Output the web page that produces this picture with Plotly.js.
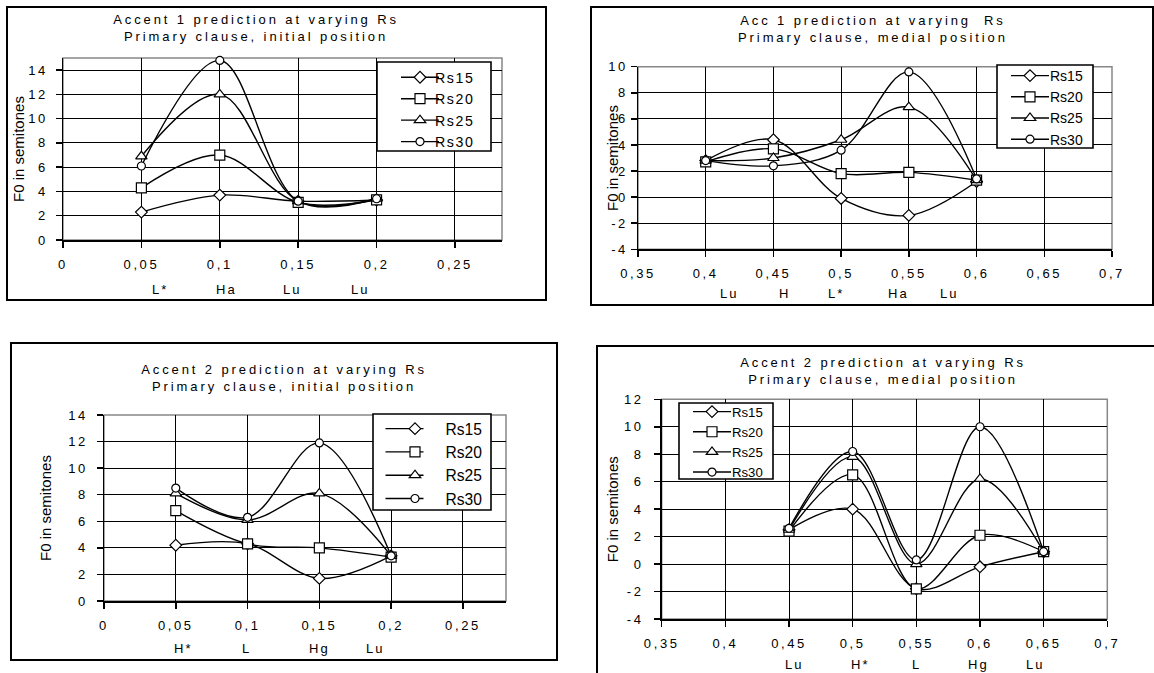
<!DOCTYPE html>
<html>
<head>
<meta charset="utf-8">
<script src="https://cdn.plot.ly/plotly-3.0.1.min.js"></script>
<style>
  html, body { margin: 0; padding: 0; background: #fff; }
  #chart { width: 1154px; height: 673px; }
  .xaxislayer-above text, .yaxislayer-above text { letter-spacing: 2.6px; }
  .legendtext { letter-spacing: 1.6px; transform: translateX(-5px); }
  .annotation-text.sp { letter-spacing: 2.9px; }
  .annotation-text.cl { letter-spacing: 2px; }
</style>
</head>
<body>
<div id="chart"></div>
<script>
// ---------------- DATA ----------------
const seriesNames = ["Rs15", "Rs20", "Rs25", "Rs30"];
const seriesSymbols = ["diamond", "square", "triangle-up", "circle"];

// Panel 1: Accent 1 prediction, primary clause, initial position
const p1Title = "Accent 1 prediction at varying Rs<br>Primary clause, initial position";
const p1X = [0.05, 0.1, 0.15, 0.2];
const p1Rs15 = [2.3, 3.7, 3.2, 3.3];
const p1Rs20 = [4.3, 7.0, 3.1, 3.3];
const p1Rs25 = [6.9, 12.0, 3.2, 3.4];
const p1Rs30 = [6.1, 14.8, 3.2, 3.4];
const p1Labels = ["L*", "Ha", "Lu", "Lu"];
const p1XTicks = [0, 0.05, 0.1, 0.15, 0.2, 0.25];
const p1XTickText = ["0", "0,05", "0,1", "0,15", "0,2", "0,25"];
const p1YTicks = [0, 2, 4, 6, 8, 10, 12, 14];
const p1YTickText = ["0", "2", "4", "6", "8", "10", "12", "14"];

// Panel 2: Acc 1 prediction, primary clause, medial position
const p2Title = "Acc 1 prediction at varying  Rs<br>Primary clause, medial position";
const p2X = [0.4, 0.45, 0.5, 0.55, 0.6];
const p2Rs15 = [2.8, 4.4, -0.1, -1.4, 1.2];
const p2Rs20 = [2.7, 3.7, 1.8, 1.9, 1.3];
const p2Rs25 = [2.8, 3.0, 4.4, 6.9, 1.3];
const p2Rs30 = [2.8, 2.4, 3.6, 9.6, 1.4];
const p2Labels = ["Lu", "H", "L*", "Ha", "Lu"];
const p2XTicks = [0.35, 0.4, 0.45, 0.5, 0.55, 0.6, 0.65, 0.7];
const p2XTickText = ["0,35", "0,4", "0,45", "0,5", "0,55", "0,6", "0,65", "0,7"];
const p2YTicks = [-4, -2, 0, 2, 4, 6, 8, 10];
const p2YTickText = ["-4", "-2", "0", "2", "4", "6", "8", "10"];

// Panel 3: Accent 2 prediction, primary clause, initial position
const p3Title = "Accent 2 prediction at varying Rs<br>Primary clause, initial position";
const p3X = [0.05, 0.1, 0.15, 0.2];
const p3Rs15 = [4.2, 4.3, 1.7, 3.4];
const p3Rs20 = [6.8, 4.3, 4.0, 3.3];
const p3Rs25 = [8.1, 6.1, 8.1, 3.4];
const p3Rs30 = [8.5, 6.3, 11.9, 3.4];
const p3Labels = ["H*", "L", "Hg", "Lu"];
const p3XTicks = [0, 0.05, 0.1, 0.15, 0.2, 0.25];
const p3XTickText = ["0", "0,05", "0,1", "0,15", "0,2", "0,25"];
const p3YTicks = [0, 2, 4, 6, 8, 10, 12, 14];
const p3YTickText = ["0", "2", "4", "6", "8", "10", "12", "14"];

// Panel 4: Accent 2 prediction, primary clause, medial position
const p4Title = "Accent 2 prediction at varying Rs<br>Primary clause, medial position";
const p4X = [0.45, 0.5, 0.55, 0.6, 0.65];
const p4Rs15 = [2.5, 4.0, -1.8, -0.2, 0.9];
const p4Rs20 = [2.4, 6.5, -1.8, 2.1, 0.9];
const p4Rs25 = [2.5, 7.8, 0.0, 6.2, 0.9];
const p4Rs30 = [2.6, 8.2, 0.3, 10.0, 0.9];
const p4Labels = ["Lu", "H*", "L", "Hg", "Lu"];
const p4XTicks = [0.35, 0.4, 0.45, 0.5, 0.55, 0.6, 0.65, 0.7];
const p4XTickText = ["0,35", "0,4", "0,45", "0,5", "0,55", "0,6", "0,65", "0,7"];
const p4YTicks = [-4, -2, 0, 2, 4, 6, 8, 10, 12];
const p4YTickText = ["-4", "-2", "0", "2", "4", "6", "8", "10", "12"];

const yTitle = "F0 in semitones";

// ---------------- LAYOUT HELPERS ----------------
const W = 1154, H = 673;
const px = v => v / W;
const py = v => 1 - v / H;

const panels = [
  { x: p1X, ys: [p1Rs15, p1Rs20, p1Rs25, p1Rs30], title: p1Title, labels: p1Labels,
    xt: [p1XTicks, p1XTickText], yt: [p1YTicks, p1YTickText],
    dom: [63, 502, 58, 240], xr: [0, 0.28], yr: [0, 15],
    box: [377, 62, 491, 151], legend: { x: 400, ymid: 109.5, itemwidth: 30, font: 14.2 },
    titleXY: [256, 28],
    ytitleX: 18, labPos: [160, 226, 292, 360], labY: 289, ystand: 5 },
  { x: p2X, ys: [p2Rs15, p2Rs20, p2Rs25, p2Rs30], title: p2Title, labels: p2Labels,
    xt: [p2XTicks, p2XTickText], yt: [p2YTicks, p2YTickText],
    dom: [638, 1112, 66.7, 249.3], xr: [0.35, 0.7], yr: [-4, 10],
    box: [997, 65, 1093, 148], legend: { x: 1010, ymid: 107.5, itemwidth: 30, font: 14 },
    titleXY: [873, 29],
    ytitleX: 612, labPos: [729, 784, 836, 898, 949], labY: 293, ystand: 0 },
  { x: p3X, ys: [p3Rs15, p3Rs20, p3Rs25, p3Rs30], title: p3Title, labels: p3Labels,
    xt: [p3XTicks, p3XTickText], yt: [p3YTicks, p3YTickText],
    dom: [104, 506, 415, 601], xr: [0, 0.28], yr: [0, 14],
    box: [373, 414, 491, 510], legend: { x: 384.5, ymid: 464, itemwidth: 51, font: 15.6 },
    titleXY: [284, 378],
    ytitleX: 45, labPos: [183, 246, 319, 375], labY: 648, ystand: 6 },
  { x: p4X, ys: [p4Rs15, p4Rs20, p4Rs25, p4Rs30], title: p4Title, labels: p4Labels,
    xt: [p4XTicks, p4XTickText], yt: [p4YTicks, p4YTickText],
    dom: [661.7, 1107.3, 399.3, 619], xr: [0.35, 0.7], yr: [-4, 12],
    box: [679, 403, 773, 479], legend: { x: 692, ymid: 442, itemwidth: 30, font: 13.2 },
    titleXY: [883, 371],
    ytitleX: 612, labPos: [794, 860, 916, 978, 1035], labY: 664, ystand: 8 }
];

const frames = [
  [7, 7, 546, 300],
  [591, 7, 1153, 305],
  [11, 343, 557, 660],
  [597, 346, 1160, 680]
];

const font = "Arial, 'Liberation Sans', sans-serif";
const traces = [];
const layout = {
  width: W, height: H,
  margin: { l: 0, r: 0, t: 0, b: 0 },
  paper_bgcolor: "#fff", plot_bgcolor: "rgba(0,0,0,0)",
  font: { family: font, color: "#000", size: 13 },
  shapes: [], annotations: []
};

panels.forEach((p, i) => {
  const n = i === 0 ? "" : String(i + 1);
  const xa = "xaxis" + n, ya = "yaxis" + n;
  const lg = "legend" + n;
  layout[xa] = {
    domain: [px(p.dom[0]), px(p.dom[1])], range: p.xr, anchor: "y" + n,
    tickmode: "array", tickvals: p.xt[0], ticktext: p.xt[1],
    showgrid: true, gridcolor: "#000", gridwidth: 1,
    zeroline: false, showline: true, linecolor: "#000", linewidth: 1.5,
    ticks: "outside", ticklen: 6, tickcolor: "#000", tickwidth: 1.5,
    ticklabelstandoff: 6, tickfont: { size: 13, family: font },
    fixedrange: true
  };
  layout[ya] = {
    domain: [py(p.dom[3]), py(p.dom[2])], range: p.yr, anchor: "x" + n,
    tickmode: "array", tickvals: p.yt[0], ticktext: p.yt[1],
    showgrid: true, gridcolor: "#000", gridwidth: 1,
    zeroline: false, showline: true, linecolor: "#000", linewidth: 1.5,
    ticks: "outside", ticklen: 6, tickcolor: "#000", tickwidth: 1.5,
    ticklabelstandoff: p.ystand, tickfont: { size: 13, family: font },
    fixedrange: true
  };
  layout[lg] = {
    x: px(p.legend.x), y: py(p.legend.ymid), xanchor: "left", yanchor: "middle",
    bgcolor: "rgba(0,0,0,0)", borderwidth: 0,
    font: { size: p.legend.font, family: font, color: "#000" },
    itemwidth: p.legend.itemwidth, tracegroupgap: 0,
    itemclick: false, itemdoubleclick: false
  };
  // grey plot-area border (top / right)
  layout.shapes.push({
    type: "rect", xref: "x" + n + " domain", yref: "y" + n + " domain",
    x0: 0, x1: 1, y0: 0, y1: 1, line: { color: "#888", width: 1.5 }, layer: "below"
  });
  // legend box
  layout.shapes.push({
    type: "rect", xref: "paper", yref: "paper",
    x0: px(p.box[0]), x1: px(p.box[2]), y0: py(p.box[3]), y1: py(p.box[1]),
    fillcolor: "#fff", line: { color: "#000", width: 1.6 }, layer: "above"
  });
  // outer frame
  const f = frames[i];
  layout.shapes.push({
    type: "rect", xref: "paper", yref: "paper",
    x0: px(f[0]), x1: px(f[2]), y0: py(f[3]), y1: py(f[1]),
    line: { color: "#000", width: 2 }, layer: "above"
  });
  // title
  layout.annotations.push({
    text: p.title, xref: "paper", yref: "paper",
    x: px(p.titleXY[0]), y: py(p.titleXY[1]), xanchor: "center", yanchor: "middle",
    showarrow: false, font: { size: 13, family: font, color: "#000" },
    align: "center"
  });
  // y axis title
  layout.annotations.push({
    text: yTitle, xref: "paper", yref: "paper",
    x: px(p.ytitleX), y: py((p.dom[2] + p.dom[3]) / 2), textangle: -90,
    xanchor: "center", yanchor: "middle", showarrow: false,
    font: { size: 15, family: font, color: "#000" }
  });
  // category labels row
  p.labels.forEach((lab, k) => {
    layout.annotations.push({
      text: lab, xref: "paper", yref: "paper",
      x: px(p.labPos[k]), y: py(p.labY), xanchor: "center", yanchor: "middle",
      showarrow: false, font: { size: 13, family: font, color: "#000" }
    });
  });
  // traces
  p.ys.forEach((yv, s) => {
    traces.push({
      type: "scatter", mode: "lines+markers",
      x: p.x, y: yv, name: seriesNames[s],
      xaxis: "x" + n, yaxis: "y" + n, legend: lg,
      line: { color: "#000", width: 1.4, shape: "spline", smoothing: 1 },
      marker: {
        symbol: seriesSymbols[s],
        size: s === 3 ? 8 : (s === 0 ? 9 : 10),
        color: "#fff", line: { color: "#000", width: 1.2 }
      },
      cliponaxis: false, hoverinfo: "skip"
    });
  });
});

Plotly.newPlot("chart", traces, layout, { staticPlot: true, displayModeBar: false }).then(() => {
  document.querySelectorAll(".annotation-text").forEach(t => {
    const s = t.textContent;
    if (s.indexOf("prediction") >= 0) t.classList.add("sp");
    else if (s !== yTitle) t.classList.add("cl");
  });
  // longer legend sample lines, centred on the marker
  document.querySelectorAll(".legendlines path").forEach(pth => pth.setAttribute("d", "M1,0h38"));
});
</script>
</body>
</html>
